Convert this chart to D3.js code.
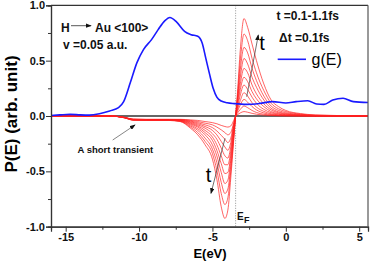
<!DOCTYPE html>
<html>
<head>
<meta charset="utf-8">
<script src="https://cdn.jsdelivr.net/npm/d3@7"></script>
<style>
  body { margin: 0; background: #fff; }
  svg { display: block; font-family: "Liberation Sans", Arial, sans-serif; }
</style>
</head>
<body>
<svg id="chart" width="374" height="265"></svg>
<script>
// energy grid of the P(E) curves (eV)
const energies = [-16, -12, -11, -10.4, -9.5, -8, -7.2, -6.5, -6, -5.5, -5, -4.7, -4.4, -4.15, -3.95, -3.75, -3.55, -3.42,
  -3.3, -3.1, -2.85, -2.6, -2.3, -2, -1.5, -1, -0.5, 0, 1, 2, 5.6];

// P(E) for t = 0.1 ... 1.1 fs
const p01 = [0, 0, -0.012, -0.028, -0.03, -0.03, -0.03, -0.035, -0.04, -0.05, -0.06, -0.07, -0.085, -0.095, -0.10, -0.09, -0.04, 0,
  0.012, 0.028, 0.04, 0.034, 0.024, 0.016, 0.008, 0.004, 0.002, 0.001, 0, 0, 0];
const p02 = [0, 0, -0.012, -0.029, -0.031, -0.031, -0.032, -0.04, -0.05, -0.065, -0.08, -0.1, -0.125, -0.15, -0.17, -0.15, -0.06, 0,
  0.025, 0.06, 0.09, 0.075, 0.05, 0.032, 0.016, 0.008, 0.004, 0.002, 0.001, 0, 0];
const p03 = [0, 0, -0.013, -0.03, -0.032, -0.032, -0.034, -0.046, -0.06, -0.08, -0.105, -0.135, -0.175, -0.21, -0.24, -0.2, -0.075, 0,
  0.04, 0.1, 0.15, 0.125, 0.085, 0.055, 0.028, 0.013, 0.007, 0.004, 0.002, 0.001, 0];
const p04 = [0, 0, -0.013, -0.031, -0.033, -0.033, -0.036, -0.052, -0.07, -0.095, -0.13, -0.17, -0.23, -0.28, -0.31, -0.24, -0.09, 0,
  0.055, 0.14, 0.21, 0.18, 0.12, 0.08, 0.042, 0.02, 0.01, 0.006, 0.003, 0.001, 0];
const p05 = [0, 0, -0.014, -0.032, -0.034, -0.034, -0.038, -0.058, -0.08, -0.11, -0.16, -0.21, -0.29, -0.36, -0.38, -0.28, -0.1, 0,
  0.07, 0.19, 0.28, 0.24, 0.17, 0.115, 0.06, 0.03, 0.016, 0.009, 0.004, 0.001, 0];
const p06 = [0, 0, -0.014, -0.033, -0.035, -0.035, -0.04, -0.065, -0.09, -0.13, -0.19, -0.26, -0.36, -0.44, -0.44, -0.32, -0.12, 0,
  0.09, 0.24, 0.35, 0.31, 0.22, 0.155, 0.085, 0.04, 0.022, 0.012, 0.005, 0.002, 0];
const p07 = [0, 0, -0.015, -0.034, -0.036, -0.036, -0.042, -0.072, -0.1, -0.15, -0.22, -0.31, -0.43, -0.52, -0.51, -0.36, -0.14, 0,
  0.11, 0.29, 0.43, 0.39, 0.28, 0.2, 0.11, 0.055, 0.03, 0.017, 0.007, 0.003, 0];
const p08 = [0, 0, -0.015, -0.035, -0.037, -0.037, -0.044, -0.08, -0.115, -0.17, -0.26, -0.36, -0.51, -0.61, -0.58, -0.4, -0.16, 0,
  0.13, 0.35, 0.52, 0.47, 0.35, 0.26, 0.145, 0.07, 0.038, 0.022, 0.01, 0.004, 0];
const p09 = [0, 0, -0.016, -0.036, -0.038, -0.038, -0.046, -0.09, -0.13, -0.2, -0.3, -0.42, -0.6, -0.70, -0.66, -0.45, -0.18, 0,
  0.15, 0.42, 0.62, 0.57, 0.43, 0.32, 0.18, 0.09, 0.05, 0.03, 0.013, 0.005, 0];
const p10 = [0, 0, -0.016, -0.037, -0.04, -0.04, -0.048, -0.1, -0.15, -0.23, -0.34, -0.49, -0.70, -0.80, -0.74, -0.5, -0.2, 0,
  0.17, 0.5, 0.74, 0.68, 0.52, 0.39, 0.23, 0.115, 0.065, 0.04, 0.017, 0.007, 0];
const p11 = [0, 0, -0.017, -0.038, -0.04, -0.04, -0.05, -0.11, -0.17, -0.26, -0.39, -0.57, -0.82, -0.925, -0.85, -0.56, -0.22, 0,
  0.2, 0.6, 0.88, 0.8, 0.65, 0.5, 0.29, 0.145, 0.085, 0.05, 0.022, 0.01, 0];
const pSeries = [p01, p02, p03, p04, p05, p06, p07, p08, p09, p10, p11];

// density of states g(E)
const gEnergies = [-16, -15.4, -14.7, -14.0, -13.4, -12.7, -12.0, -11.4, -11.05, -10.6, -10.15, -9.7, -9.15, -8.7, -8.25, -7.9,
  -7.45, -6.9, -6.45, -6.0, -5.7, -5.45, -5.2, -4.95, -4.7, -4.4, -4.0, -3.5, -2.7, -1.8, -0.9, 0, 0.7, 1.5, 2.1, 2.6, 3.2, 3.9, 4.6, 5.6];
const gValues = [0.005, 0.01, 0.015, 0.01, 0.008, 0.02, 0.045, 0.075, 0.13, 0.3, 0.48, 0.6, 0.69, 0.78, 0.86, 0.89,
  0.85, 0.765, 0.735, 0.72, 0.66, 0.52, 0.38, 0.25, 0.17, 0.135, 0.12, 0.112, 0.105, 0.113, 0.13, 0.118, 0.13, 0.138, 0.108, 0.105, 0.145, 0.16, 0.13, 0.122];

const xMajor = [-15, -10, -5, 0, 5];
const xMinor = [-12.5, -7.5, -2.5, 2.5];
const yMajor = [-1, -0.5, 0, 0.5, 1];
const yMinor = [-0.75, -0.25, 0.25, 0.75];
const fermiLevel = -3.42;

const svg = d3.select('#chart');
const margin = {top: 5.3, right: 6, bottom: 38.3, left: 51};
const width = 374 - margin.left - margin.right;
const height = 265 - margin.top - margin.bottom;
const g = svg.append('g').attr('transform', `translate(${margin.left},${margin.top})`);

const x = d3.scaleLinear().domain([-16, 5.6]).range([0, width]);
const y = d3.scaleLinear().domain([-1, 1]).range([height, 0]);

// arrow heads
const defs = svg.append('defs');
defs.append('marker')
    .attr('id', 'head')
    .attr('markerUnits', 'userSpaceOnUse')
    .attr('viewBox', '0 0 8 6')
    .attr('refX', 7).attr('refY', 3)
    .attr('markerWidth', 6).attr('markerHeight', 4.5)
    .attr('orient', 'auto')
    .append('path').attr('d', 'M0,0 L8,3 L0,6 Z').attr('fill', '#111');

// zero line
g.append('line')
    .attr('x1', 0).attr('x2', width)
    .attr('y1', y(0)).attr('y2', y(0))
    .attr('stroke', '#333').attr('stroke-width', 1.3);

// Fermi level
g.append('line')
    .attr('x1', x(fermiLevel)).attr('x2', x(fermiLevel))
    .attr('y1', 0).attr('y2', height)
    .attr('stroke', '#777').attr('stroke-width', 0.8)
    .attr('stroke-dasharray', '1,1.5');

const line = d3.line()
    .x((d, i) => x(energies[i]))
    .y(d => y(d))
    .curve(d3.curveMonotoneX);

g.selectAll('.p-curve')
    .data(pSeries)
    .enter()
    .append('path')
    .attr('class', 'p-curve')
    .attr('d', d => line(d))
    .attr('fill', 'none')
    .attr('stroke', '#ff2020')
    .attr('stroke-width', 0.7);

const gLine = d3.line()
    .x((d, i) => x(gEnergies[i]))
    .y(d => y(d))
    .curve(d3.curveMonotoneX);

g.append('path')
    .attr('d', gLine(gValues))
    .attr('fill', 'none')
    .attr('stroke', '#1a1aff')
    .attr('stroke-width', 1.6);

// axes
g.append('g')
    .attr('transform', `translate(0,${height})`)
    .call(d3.axisBottom(x).tickValues(xMajor).tickSize(5).tickPadding(2).tickFormat(d => String(d)));
g.append('g')
    .attr('transform', `translate(0,${height})`)
    .call(d3.axisBottom(x).tickValues(xMinor).tickSize(3).tickFormat(''));
g.append('g')
    .call(d3.axisLeft(y).tickValues(yMajor).tickSize(5).tickPadding(1).tickFormat(d => d.toFixed(1)));
g.append('g')
    .call(d3.axisLeft(y).tickValues(yMinor).tickSize(3).tickFormat(''));

g.selectAll('.domain').attr('stroke', '#333').attr('stroke-width', 1.2);
g.selectAll('.tick line').attr('stroke', '#333');
g.selectAll('.tick text')
    .attr('font-size', 11).attr('font-weight', 'bold')
    .attr('font-family', '"Liberation Sans", Arial, sans-serif')
    .attr('fill', '#111');

// top and right frame
g.append('line').attr('x1', 0).attr('x2', width).attr('y1', 0).attr('y2', 0)
    .attr('stroke', '#333').attr('stroke-width', 1.2);
g.append('line').attr('x1', width).attr('x2', width).attr('y1', 0).attr('y2', height)
    .attr('stroke', '#555').attr('stroke-width', 1.2);

// axis titles
svg.append('text')
    .attr('x', 210).attr('y', 258)
    .attr('text-anchor', 'middle')
    .attr('font-size', 13).attr('font-weight', 'bold')
    .text('E(eV)');
svg.append('text')
    .attr('transform', 'translate(17,114) rotate(-90)')
    .attr('text-anchor', 'middle')
    .attr('font-size', 17).attr('font-weight', 'bold')
    .text('P(E) (arb. unit)');

// annotations
const ann = svg.append('g').attr('font-weight', 'bold').attr('fill', '#111');
ann.append('text').attr('x', 61).attr('y', 31.5).attr('font-size', 12).text('H');
ann.append('text').attr('x', 95).attr('y', 31.5).attr('font-size', 12).text('Au <100>');
ann.append('text').attr('x', 63).attr('y', 49).attr('font-size', 12).text('v =0.05 a.u.');
ann.append('text').attr('x', 276.5).attr('y', 19.5).attr('font-size', 12).text('t =0.1-1.1fs');
ann.append('text').attr('x', 279).attr('y', 41.5).attr('font-size', 12).text('\u0394t =0.1fs');
ann.append('text').attr('x', 77.5).attr('y', 152.5).attr('font-size', 9.5).text('A short transient');
ann.append('text').attr('x', 237).attr('y', 219.5).attr('font-size', 10).text('E');
ann.append('text').attr('x', 244).attr('y', 222.5).attr('font-size', 9).text('F');

svg.append('line').attr('x1', 71).attr('y1', 25.7).attr('x2', 91).attr('y2', 25.7)
    .attr('stroke', '#111').attr('stroke-width', 0.7).attr('marker-end', 'url(#head)');
svg.append('line').attr('x1', 112.7).attr('y1', 140).attr('x2', 135).attr('y2', 125)
    .attr('stroke', '#333').attr('stroke-width', 0.6).attr('marker-end', 'url(#head)');
svg.append('line').attr('x1', 246.7).attr('y1', 96.7).attr('x2', 258.3).attr('y2', 35)
    .attr('stroke', '#333').attr('stroke-width', 0.7).attr('marker-end', 'url(#head)');
svg.append('line').attr('x1', 225).attr('y1', 138.3).attr('x2', 211).attr('y2', 193.3)
    .attr('stroke', '#333').attr('stroke-width', 0.7).attr('marker-end', 'url(#head)');

svg.append('text').attr('x', 262).attr('y', 50).attr('text-anchor', 'middle').attr('font-size', 20).text('t');
svg.append('text').attr('x', 208.5).attr('y', 181.5).attr('text-anchor', 'middle').attr('font-size', 20).text('t');

// legend
svg.append('line').attr('x1', 277.7).attr('x2', 306).attr('y1', 59.3).attr('y2', 59.3)
    .attr('stroke', '#1a1aff').attr('stroke-width', 1.6);
svg.append('text').attr('x', 311.5).attr('y', 65.3).attr('font-size', 16).text('g(E)');
</script>
</body>
</html>
